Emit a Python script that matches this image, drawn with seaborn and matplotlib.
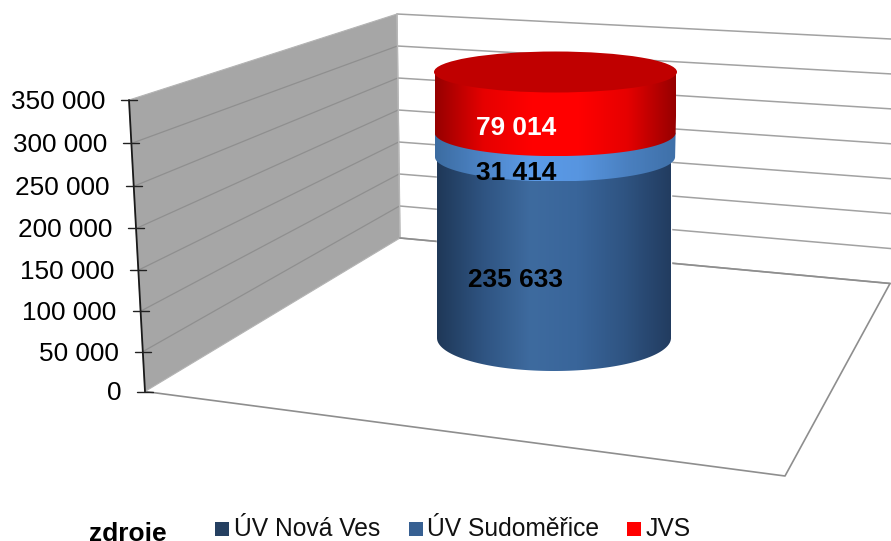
import numpy as np
import pandas as pd
import matplotlib
matplotlib.use('Agg')
import matplotlib.pyplot as plt
import seaborn as sns
from matplotlib.colors import LinearSegmentedColormap
from matplotlib.patches import Ellipse, Polygon

# data
sources = ['ÚV Nová Ves', 'ÚV Sudoměřice', 'JVS']
volumes = [235633, 31414, 79014]
value_labels = ['235 633', '31 414', '79 014']
label_colors = ['black', 'black', 'white']
legend_colors = ['#254061', '#376092', '#FF0000']
axis_ticks = [0, 50000, 100000, 150000, 200000, 250000, 300000, 350000]
axis_labels = ['0', '50 000', '100 000', '150 000', '200 000', '250 000', '300 000', '350 000']

sns.set_theme(style='white')
plt.rcParams['font.family'] = ['Liberation Sans', 'DejaVu Sans']

W, H = 891, 541
total = sum(volumes)
y_max = axis_ticks[-1]

fig = plt.figure(figsize=(W / 100, H / 100), dpi=100, facecolor='white')

# back layer in pixels: walls, floor, grid
bg = fig.add_axes([0, 0, 1, 1])
bg.set_xlim(0, W)
bg.set_ylim(H, 0)
bg.axis('off')

line_col = '#a2a2a2'


def front_y(v):
    # left front edge of the box, spacing grows a bit with height
    t = v / y_max
    return 391.5 - 291.5 * t * (0.95 + 0.05 * t)


def front_x(v):
    return 145 - 16 * (391.5 - front_y(v)) / 291.5


def back_y(v):
    return 238 - 224 * v / y_max


def back_x(v):
    return 400 - 3 * v / y_max


def right_y(v):
    return 283.5 - 244.5 * v / y_max


bg.add_patch(Polygon([(front_x(0), front_y(0)), (front_x(y_max), front_y(y_max)),
                      (back_x(y_max), back_y(y_max)), (back_x(0), back_y(0))],
                     closed=True, facecolor='#a6a6a6', edgecolor='#b4b4b4', lw=0.8))

for v in axis_ticks:
    bg.plot([back_x(v), W], [back_y(v), right_y(v)], color=line_col, lw=1.1)
    if 0 < v < y_max:
        bg.plot([front_x(v), back_x(v)], [front_y(v), back_y(v)], color='#8f8f8f', lw=0.9)

bg.plot([back_x(0), back_x(y_max)], [back_y(0), back_y(y_max)], color='#b8b8b8', lw=1)
bg.plot([front_x(0), 785, 890, back_x(0)], [front_y(0), 476, 283.5, back_y(0)],
        color='#8e8e8e', lw=1.2)

bg.plot([front_x(0), front_x(y_max)], [front_y(0), front_y(y_max)], color='#1a1a1a', lw=1.3)
for v, lab in zip(axis_ticks, axis_labels):
    x, y = front_x(v), front_y(v)
    bg.plot([x - 8, x + 8], [y, y], color='#222222', lw=1)
    bg.text(x - 24, y + 2, lab, ha='right', va='center', fontsize=18.8, color='black')

# cylinder layer: x in px from the cylinder axis, y in volume units
px_per_unit = 266 / total
base_px = 338
ax = fig.add_axes([0, 0, 1, 1])
ax.patch.set_alpha(0)

df = pd.DataFrame({'source': sources, 'volume': volumes})
df['bottom'] = df['volume'].cumsum() - df['volume']
df['top'] = df['volume'].cumsum()

for _, row in df.iterrows():
    i = sources.index(row['source'])
    sns.barplot(x=['zdroje'], y=[row['volume']], bottom=row['bottom'], width=234,
                color=legend_colors[i], saturation=1, ax=ax, zorder=2)

ax.set_xlim(-554, W - 554)
ax.set_ylim((base_px - H) / px_per_unit, base_px / px_per_unit)
ax.axis('off')


def rx(v):
    return 117 + 4.5 * v / total


def ry(v):
    return 33 - 12.5 * v / total


def cx(v):
    return 1.5 * v / total


shades = [
    ['#1f3858', '#2f5482', '#3e6b9f', '#39659a', '#2f5482', '#223c60'],
    ['#3c6ca1', '#4d84c6', '#5c9be8', '#5795e0', '#4a80c0', '#3f70a8'],
    ['#960000', '#e60000', '#ff0000', '#ff0000', '#e60000', '#960000'],
]

for i, row in df.iterrows():
    lo, hi = row['bottom'], row['top']
    ang = np.linspace(np.pi, 2 * np.pi, 120)
    xs = cx(lo) + rx(lo) * np.cos(ang)
    ys = lo + ry(lo) * np.sin(ang) / px_per_unit
    pts = list(zip(xs, ys)) + [(cx(hi) + rx(hi), hi), (cx(hi) - rx(hi), hi)]
    cmap = LinearSegmentedColormap.from_list(f'seg{i}', shades[i])
    im = ax.imshow(np.linspace(0, 1, 256).reshape(1, -1), cmap=cmap, aspect='auto', zorder=3 + i,
                   extent=(cx(lo) - rx(lo), cx(lo) + rx(lo), lo - ry(lo) / px_per_unit, hi),
                   interpolation='bilinear')
    clip = Polygon(pts, closed=True, transform=ax.transData)
    im.set_clip_path(clip)

ax.add_patch(Ellipse((cx(total), total), 2 * rx(total), 2 * ry(total) / px_per_unit,
                     facecolor='#C00000', edgecolor='none', zorder=8))

ax.set_xlim(-554, W - 554)
ax.set_ylim((base_px - H) / px_per_unit, base_px / px_per_unit)

for i, row in df.iterrows():
    mid = (row['bottom'] + row['top']) / 2
    ax.text(-38, mid - (ry(mid) + 4) / px_per_unit, value_labels[i], ha='center', va='center',
            fontsize=18.9, fontweight='bold', color=label_colors[i], zorder=9)

# legend, hand placed like the original one
legend_x = [215, 409, 627]
legend_text_x = [234, 427, 646]
for name, col, x, tx in zip(sources, legend_colors, legend_x, legend_text_x):
    bg.scatter([x + 6.5], [528.5], marker='s', s=95, color=col, linewidths=0, clip_on=False)
    bg.text(tx, 536, name, ha='left', va='baseline', fontsize=17.7, color='#111111')
bg.text(128, 541, 'zdroje', ha='center', va='baseline', fontsize=19, fontweight='bold', color='black')

fig.savefig('out.png', dpi=100)
